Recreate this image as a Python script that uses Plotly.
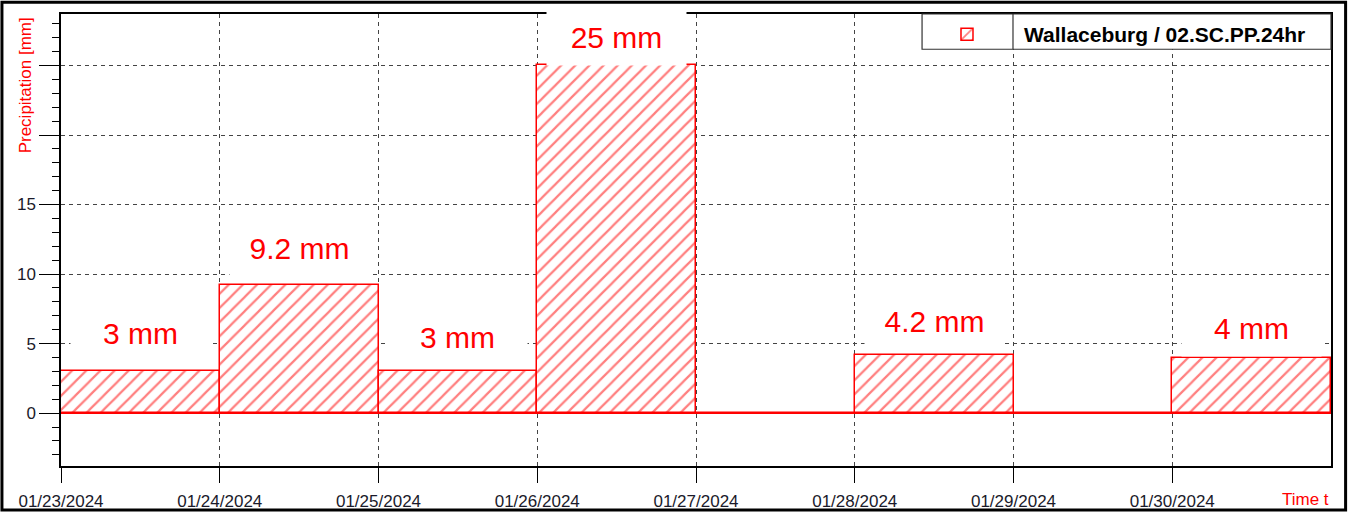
import plotly.graph_objects as go
import pandas as pd

# ---- data ----
days = ["2024-01-23", "2024-01-24", "2024-01-25", "2024-01-26",
        "2024-01-27", "2024-01-28", "2024-01-29", "2024-01-30"]
precip_mm = [3, 9.2, 3, 25, 0, 4.2, 0, 4]
label_text = ["3 mm", "9.2 mm", "3 mm", "25 mm", None, "4.2 mm", None, "4 mm"]
tick_dates = days
tick_text = ["01/23/2024", "01/24/2024", "01/25/2024", "01/26/2024",
             "01/27/2024", "01/28/2024", "01/29/2024", "01/30/2024"]
y_tickvals = [0, 5, 10, 15, 20, 25]
y_ticktext = ["0", "5", "10", "15", "", ""]
series_name = "Wallaceburg / 02.SC.PP.24hr"

RED = "#ff0000"
FONT = "Arial, Liberation Sans, sans-serif"
DAY_MS = 86400000

fig = go.Figure()
fig.add_trace(go.Bar(
    x=days, y=precip_mm, width=[DAY_MS] * len(days), offset=0,
    name="<b>" + series_name + "</b>",
    marker=dict(color="white",
                line=dict(color=RED, width=1.5),
                pattern=dict(shape="/", fgcolor=RED, bgcolor="white",
                             size=10, solidity=0.22)),
    showlegend=True,
))

# value labels (white text boxes)
label_shift = [38, 37, 34, 28, 0, 34, 0, 30]
for d, v, t, s in zip(days, precip_mm, label_text, label_shift):
    if t is None:
        continue
    center = pd.Timestamp(d) + pd.Timedelta(hours=12)
    fig.add_annotation(x=center, y=v, xref="x", yref="y", text=t,
                       showarrow=False, yshift=s, yanchor="middle",
                       font=dict(family=FONT, size=30, color=RED),
                       bgcolor="white", width=137, height=54)

# axis title & time label
fig.add_annotation(x=-0.028, y=0.998, xref="paper", yref="paper",
                   text="Precipitation [mm]", textangle=-90, showarrow=False,
                   xanchor="center", yanchor="top",
                   font=dict(family=FONT, size=17, color=RED))
fig.add_annotation(x=1.0, y=-0.074, xref="paper", yref="paper",
                   text="Time t", showarrow=False, xanchor="right", yanchor="middle",
                   font=dict(family=FONT, size=17, color=RED))

# legend frame (box + divider), legend itself is transparent on top
fig.add_shape(type="rect", xref="paper", yref="paper",
              x0=0.6780, x1=1.0, y0=0.922, y1=1.0,
              line=dict(color="#333", width=1.2), fillcolor="white", layer="above")
fig.add_shape(type="line", xref="paper", yref="paper",
              x0=0.7496, x1=0.7496, y0=0.922, y1=1.0,
              line=dict(color="#333", width=1.2), layer="above")

# outer frame
fig.add_shape(type="rect", xref="paper", yref="paper",
              x0=-0.0465, x1=1.0115, y0=-0.0976, y1=1.026,
              line=dict(color="black", width=3), fillcolor="rgba(0,0,0,0)")

fig.update_layout(
    width=1348, height=523, autosize=False,
    margin=dict(l=61, r=17, t=14, b=48),
    paper_bgcolor="white", plot_bgcolor="white",
    font=dict(family=FONT, size=17, color="#1a1a2a"),
    showlegend=True,
    legend=dict(x=0.6685, y=1, xanchor="left", yanchor="top",
                bgcolor="rgba(0,0,0,0)", borderwidth=0,
                itemwidth=104,
                font=dict(family=FONT, size=21, color="black")),
    bargap=0,
)
fig.update_xaxes(
    type="date", range=["2024-01-23", "2024-01-31"],
    tickmode="array", tickvals=tick_dates, ticktext=tick_text,
    ticks="outside", ticklen=15, tickcolor="black", ticklabelstandoff=4,
    showgrid=True, gridcolor="#444", griddash="4px,4px", gridwidth=1,
    showline=True, linecolor="black", linewidth=1.5, mirror=True,
    zeroline=False,
)
fig.update_yaxes(
    range=[-3.8, 28.7],
    tickmode="array", tickvals=y_tickvals, ticktext=y_ticktext,
    ticks="outside", ticklen=20, tickcolor="black",
    minor=dict(ticks="outside", ticklen=7, tickcolor="black", dtick=1, tick0=0, showgrid=False),
    showgrid=True, gridcolor="#444", griddash="4px,4px", gridwidth=1,
    showline=True, linecolor="black", linewidth=1.5, mirror=True,
    zeroline=True, zerolinecolor=RED, zerolinewidth=1.5,
)

js = ("var h=document.documentElement;h.style.margin='0';h.style.padding='0';h.style.overflow='hidden';"
      "h.style.height='523px';var b=document.body;b.style.margin='0px';b.style.padding='0px';"
      "b.style.overflow='hidden';b.style.height='523px';b.style.position='relative';"
      "var g=document.getElementsByClassName('plotly-graph-div');"
      "for(var i=0;i<g.length;i++){g[i].style.overflow='hidden';"
      "g[i].parentElement.style.height='523px';g[i].parentElement.style.overflow='hidden';}")
fig.write_html("out.html", config={"displayModeBar": False}, post_script=js)
